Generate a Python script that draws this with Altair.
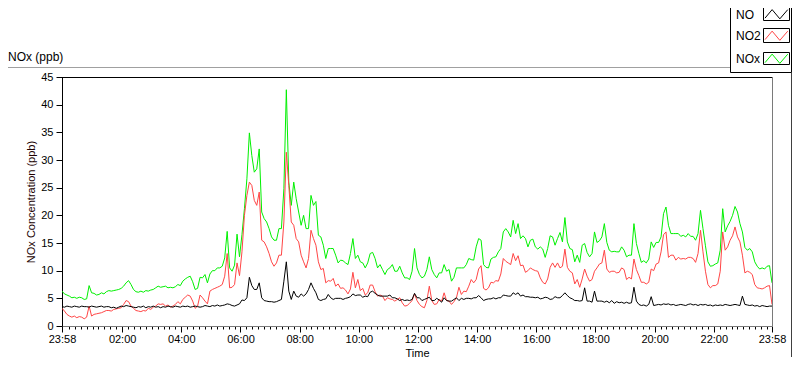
import altair as alt
import pandas as pd

# ---------------- data (5-minute samples from 23:58 to 23:58) -------------
series_names = ["NO", "NO2", "NOx"]

no_values = [
    3.5, 3.4, 3.6, 3.5, 3.4, 3.6, 3.5, 3.4, 3.6, 3.5, 3.5, 3.4, 3.6, 3.5, 3.4, 3.5, 3.6, 3.4, 3.5, 3.5,
    3.3, 3.4, 3.2, 3.4, 3.6, 3.5, 3.7, 3.6, 3.5, 3.4, 3.3, 3.5, 3.4, 3.6, 3.3, 3.5, 3.4, 3.6, 3.4, 3.5,
    3.3, 3.5, 3.4, 3.6, 3.5, 3.4, 3.6, 3.5, 3.4, 3.6, 3.5, 3.6, 3.4, 3.5, 3.6, 3.5, 3.4, 3.5, 3.7, 3.6,
    3.5, 3.7, 3.6, 3.8, 3.6, 3.7, 3.8, 4.0, 3.9, 3.7, 3.6, 3.8, 4.0,
    4.7, 4.6, 5.1, 8.8, 7.3, 6.6, 6.6, 7.8, 5.1, 4.6, 4.5, 4.4, 4.4, 4.3, 4.4, 4.6, 4.8, 8.1, 11.6, 6.3,
    4.8, 6.3, 5.4, 5.2, 5.8, 5.4, 5.8, 6.6, 7.8, 6.8, 6.0, 4.8, 4.6, 4.8, 4.9, 5.7, 5.1, 4.8, 5.0, 5.0,
    5.0, 4.8, 5.0, 5.1, 5.3, 5.8, 5.5, 5.6, 5.6, 5.2, 5.4, 5.3, 6.1, 6.3, 5.9, 5.6, 5.4, 5.4, 5.4, 5.4,
    5.6, 5.1, 5.1, 4.9, 4.6, 4.8, 4.6, 4.7, 4.6, 4.8, 5.9, 5.1, 5.1,
    4.6, 4.8, 5.0, 5.2, 4.6, 4.6, 5.0, 4.7, 4.3, 5.1, 4.6, 4.5, 4.5, 4.8, 5.1, 4.6, 5.0, 4.8, 5.0, 5.0,
    4.9, 5.1, 5.1, 5.5, 5.1, 4.6, 4.8, 4.9, 4.9, 5.1, 4.9, 5.1, 5.1, 5.6, 5.5, 5.4, 5.4, 6.0, 5.7, 6.0,
    5.4, 5.6, 5.3, 5.3, 5.2, 5.2, 5.1, 5.2, 4.9, 5.0, 5.2, 5.1, 4.8, 4.9, 5.3, 5.1, 5.1, 5.5, 6.0, 5.5,
    5.1, 4.9, 4.6, 4.6, 4.5, 4.6, 6.9, 4.5, 4.5, 4.3, 6.3, 4.5, 4.5,
    4.5, 4.3, 4.5, 4.2, 4.6, 4.1, 4.4, 4.2, 4.3, 4.1, 4.3, 4.1, 4.2, 7.0, 4.5, 3.9, 3.7, 3.8, 3.6, 3.9,
    5.3, 3.7, 3.8, 3.9, 3.8, 4.0, 3.9, 4.0, 3.8, 3.9, 3.7, 3.8, 3.9, 3.8, 3.7, 3.9, 4.0, 3.8, 3.9, 3.7,
    3.9, 3.8, 3.9, 3.7, 3.8, 3.6, 3.8, 3.7, 3.8, 3.7, 3.9, 3.8, 3.7, 3.8, 3.9, 3.8, 3.7, 5.4, 3.9, 3.8,
    3.7, 3.8, 3.6, 3.7, 3.5, 3.7, 3.6, 3.5, 3.6, 3.6,
]

no2_values = [
    3.2, 2.7, 2.1, 1.8, 1.6, 1.8, 1.5, 1.7, 1.6, 1.3, 1.6, 3.6, 1.8, 2.1, 2.2, 2.3, 2.4, 2.6, 2.8, 2.8,
    2.7, 3.0, 3.1, 3.2, 3.3, 3.9, 4.6, 4.4, 3.6, 3.2, 2.8, 2.7, 2.6, 2.8, 2.7, 3.2, 3.0, 3.4, 3.6, 4.0,
    3.9, 4.0, 3.6, 3.8, 3.4, 3.6, 3.9, 4.4, 4.0, 4.8, 5.2, 5.6, 5.4, 4.5, 3.2, 3.6, 5.6, 5.1, 4.5, 4.0,
    6.3, 6.6, 6.8, 7.0, 7.2, 7.5, 9.0, 13.1, 6.9, 7.0, 7.5, 11.4, 9.1,
    13.4, 20.0, 23.6, 26.0, 25.4, 22.7, 21.8, 24.2, 15.5, 15.2, 14.3, 13.1, 11.6, 10.8, 11.4, 12.8, 12.8, 18.8, 31.4, 25.4,
    18.8, 18.2, 15.8, 15.2, 12.8, 11.6, 10.5, 12.2, 17.3, 15.8, 14.6, 11.6, 10.2, 10.4, 7.8, 8.2, 8.1, 8.6, 7.2, 7.6,
    6.8, 6.9, 6.5, 5.8, 6.7, 9.7, 6.9, 8.4, 6.4, 6.8, 5.6, 6.0, 7.4, 7.4, 6.2, 5.4, 5.6, 5.4, 4.6, 5.1,
    4.9, 4.8, 4.5, 4.8, 5.1, 4.2, 3.6, 3.7, 4.1, 4.6, 5.8, 4.6, 3.9,
    3.5, 3.3, 4.6, 7.2, 4.6, 3.9, 4.0, 4.8, 4.5, 6.0, 4.6, 4.5, 3.9, 4.4, 5.1, 7.0, 5.7, 6.3, 6.2, 7.2,
    8.4, 7.8, 8.4, 10.3, 10.9, 6.8, 6.5, 6.9, 7.9, 7.8, 8.2, 8.1, 9.4, 12.2, 11.7, 11.4, 11.1, 13.1, 11.8, 12.7,
    10.9, 11.0, 9.7, 10.0, 10.5, 10.2, 10.0, 9.9, 8.7, 7.9, 7.6, 8.5, 10.6, 11.4, 10.6, 11.4, 10.5, 10.8, 13.9, 10.6,
    9.9, 9.6, 7.6, 8.4, 7.0, 8.5, 10.3, 9.0, 8.1, 8.4, 9.9, 10.5, 11.2,
    11.4, 13.7, 10.3, 9.7, 9.9, 9.9, 9.6, 9.7, 10.5, 10.2, 8.4, 8.8, 8.5, 12.1, 10.2, 9.1, 7.9, 7.9, 7.6, 7.9,
    10.3, 10.0, 11.2, 11.4, 13.4, 16.5, 17.0, 12.4, 12.8, 12.8, 11.9, 12.4, 12.1, 12.2, 12.1, 12.4, 12.4, 12.2, 11.5, 13.1,
    17.3, 13.4, 9.9, 7.5, 6.9, 7.3, 7.3, 7.6, 9.9, 17.0, 13.7, 14.3, 15.5, 16.3, 17.9, 16.1, 15.2, 12.8, 9.6, 9.9,
    9.7, 9.3, 7.5, 6.9, 6.8, 6.7, 6.9, 7.2, 7.3, 3.9,
]

nox_values = [
    6.3, 5.8, 5.6, 5.4, 5.1, 5.2, 5.0, 5.2, 5.1, 4.8, 4.9, 7.3, 6.0, 5.9, 5.6, 5.7, 6.0, 5.8, 6.2, 6.4,
    6.3, 6.4, 6.5, 6.6, 6.8, 7.2, 7.8, 8.2, 7.5, 6.6, 6.2, 6.1, 6.3, 6.1, 6.4, 6.3, 6.5, 6.6, 6.9, 7.2,
    7.0, 7.1, 7.2, 6.9, 7.0, 6.9, 7.1, 7.5, 7.3, 8.1, 8.5, 8.8, 9.0, 8.0, 6.6, 6.8, 8.8, 8.7, 9.3, 7.8,
    9.4, 10.0, 10.0, 10.5, 10.5, 10.8, 12.3, 17.1, 10.5, 9.9, 11.0, 16.6, 12.5,
    16.5, 21.2, 26.6, 34.9, 30.8, 27.8, 28.4, 32.0, 20.6, 19.4, 18.8, 17.6, 16.1, 15.5, 15.5, 17.6, 17.6, 24.8, 42.7, 26.0,
    21.8, 26.0, 23.0, 20.6, 18.2, 20.0, 17.6, 17.6, 23.6, 21.8, 22.5, 16.4, 16.1, 14.6, 12.2, 14.0, 14.0, 14.0, 12.8, 11.4,
    11.9, 11.8, 11.4, 11.1, 13.1, 15.8, 12.2, 12.8, 11.6, 11.4, 10.5, 11.4, 13.1, 13.3, 12.2, 10.5, 11.1, 10.2, 9.3, 10.2,
    10.5, 11.1, 9.9, 9.9, 10.8, 9.6, 8.7, 8.7, 8.4, 9.9, 14.0, 10.5, 9.3,
    8.7, 9.0, 10.2, 12.5, 10.2, 9.3, 8.7, 9.6, 9.6, 11.1, 9.9, 10.2, 8.1, 8.8, 10.5, 10.5, 10.5, 10.5, 11.1, 12.2,
    12.0, 11.9, 14.3, 15.8, 15.5, 11.1, 10.6, 10.5, 12.1, 12.4, 12.5, 13.4, 14.0, 17.0, 17.6, 17.0, 16.1, 19.1, 16.7, 18.5,
    15.8, 16.3, 15.8, 14.3, 15.5, 15.7, 14.3, 13.9, 14.3, 13.9, 12.4, 14.0, 16.3, 16.1, 14.6, 15.8, 16.9, 15.2, 19.6, 15.2,
    14.0, 13.8, 11.6, 12.8, 11.5, 14.6, 14.9, 13.3, 12.5, 13.1, 17.0, 15.1, 15.4,
    16.1, 18.5, 15.1, 13.7, 13.4, 13.5, 13.4, 13.4, 14.3, 13.7, 12.5, 12.8, 12.8, 18.5, 14.9, 13.1, 11.5, 11.8, 11.4, 12.1,
    15.2, 14.2, 15.1, 15.1, 16.1, 20.3, 21.5, 18.2, 16.7, 16.7, 16.7, 16.7, 16.2, 16.4, 16.1, 16.7, 16.2, 16.2, 15.5, 16.7,
    20.9, 17.6, 14.5, 11.6, 10.8, 10.9, 11.2, 11.4, 13.7, 21.2, 17.0, 18.1, 18.9, 20.0, 21.6, 20.6, 18.5, 17.0, 14.2, 13.7,
    14.0, 13.4, 11.6, 10.8, 10.3, 10.5, 10.3, 10.8, 10.9, 7.8,
]

start_time = "2020-01-01 23:58"
sample_minutes = 5
y_ticks = [0, 5, 10, 15, 20, 25, 30, 35, 40, 45]
major_labels = ["23:58", "02:00", "04:00", "06:00", "08:00", "10:00", "12:00",
                "14:00", "16:00", "18:00", "20:00", "22:00", "23:58"]
minor_step_minutes = 12

# ---------------- styles ----------------
FONT = "Liberation Sans"
series_colors = ["#000000", "#ff4545", "#00f000"]
W, H = 710, 249
PAD = {"left": 54, "top": 69, "right": 20, "bottom": 31}

t0 = pd.Timestamp(start_time, tz="UTC")
t_end = t0 + pd.Timedelta(days=1)
to_ms = lambda ts: int(ts.value // 10**6)


def series_df(vals):
    return pd.DataFrame({
        "t": [to_ms(t0 + pd.Timedelta(minutes=sample_minutes * i)) for i in range(len(vals))],
        "v": vals,
    })


midnight = pd.Timestamp("2020-01-02 00:00", tz="UTC")
tick_ms = [to_ms(t0)] + [to_ms(midnight + pd.Timedelta(minutes=c))
                         for c in range(minor_step_minutes, 1440, minor_step_minutes)] + [to_ms(t_end)]

lab_list = ",".join("'%s'" % s for s in major_labels)
major_test = "indexof([%s], utcFormat(datum.value, '%%H:%%M')) >= 0" % lab_list

x_scale = alt.Scale(type="utc", domain=[to_ms(t0), to_ms(t_end)], nice=False)
y_scale = alt.Scale(domain=[0, 45], nice=False, zero=True)

x_axis = alt.Axis(
    values=tick_ms,
    labelExpr="%s ? utcFormat(datum.value, '%%H:%%M') : ''" % major_test,
    tickSize={"condition": {"test": major_test, "value": 6}, "value": 3},
    tickColor="black", domainColor="#7a7a7a", grid=False,
    labelFont=FONT, labelFontSize=11, labelColor="black", labelPadding=1,
    labelOverlap=False, labelFlush=False, labelBound=False,
    title="Time", titleFont=FONT, titleFontSize=11, titleFontWeight="normal", titleColor="black",
    titleX=W / 2, titleY=30, titleAlign="center", titleBaseline="alphabetic",
)
y_axis = alt.Axis(
    values=y_ticks, grid=False, tickSize=6, tickColor="black", domainColor="black",
    labelFont=FONT, labelFontSize=11, labelColor="black", labelPadding=3,
    title="NOx Concentration (ppb)", titleFont=FONT, titleFontSize=11,
    titleFontWeight="normal", titleColor="#200000", titleAngle=-90,
    titleX=-31, titleY=H / 2, titleAlign="center", titleBaseline="middle",
)

one = pd.DataFrame({"k": [0]})


def line_layer(vals, color):
    return alt.Chart(series_df(vals)).mark_line(
        color=color, strokeWidth=1, interpolate="linear", clip=True
    ).encode(
        x=alt.X("t:T", scale=x_scale, axis=x_axis),
        y=alt.Y("v:Q", scale=y_scale, axis=y_axis),
    )


def hrule(y, x1, x2, color):
    return alt.Chart(one).mark_rule(color=color, strokeWidth=1).encode(
        x=alt.value(x1), x2=alt.value(x2), y=alt.value(y))


def vrule(x, y1, y2, color):
    return alt.Chart(one).mark_rule(color=color, strokeWidth=1).encode(
        y=alt.value(y1), y2=alt.value(y2), x=alt.value(x))


# positions relative to the plot origin
LEG_L, LEG_R, LEG_B = 668.5, 729.5, -4.5
layers = []
# outer panel frame (grey top, dark right)
layers.append(hrule(-9.5, -54, LEG_L, "#a0a0a0"))
layers.append(vrule(LEG_R, LEG_B, H + 40, "#404040"))
# plot-area frame (top black, right grey)
layers.append(hrule(0.5, 0, W, "black"))
layers.append(vrule(W + 0.5, 0, H + 0.5, "#7a7a7a"))

# chart caption
layers.append(alt.Chart(one).mark_text(
    text="NOx (ppb)", font=FONT, fontSize=12, align="left", baseline="alphabetic", color="black"
).encode(x=alt.value(-54), y=alt.value(-16.5)))

# legend box
layers.append(alt.Chart(one).mark_rect(fill="white", stroke="black", strokeWidth=1).encode(
    x=alt.value(LEG_L), x2=alt.value(LEG_R), y=alt.value(-90), y2=alt.value(LEG_B)))

legend_text_y = [-58.5, -37.5, -14.5]
legend_box_y = [(-69.5, -56.5), (-48.5, -34.5), (-24.5, -12.5)]
zigzag = "M-1,0.36 L-0.38,-0.38 L0.29,0.42 L0.98,-0.38"
for name, color, ty, (by1, by2) in zip(series_names, series_colors, legend_text_y, legend_box_y):
    layers.append(alt.Chart(pd.DataFrame({"s": [name]})).mark_text(
        font=FONT, fontSize=12, align="left", baseline="alphabetic", color="black"
    ).encode(text="s:N", x=alt.value(674), y=alt.value(ty)))
    layers.append(alt.Chart(one).mark_rect(fill="white", stroke="black", strokeWidth=1).encode(
        x=alt.value(701.5), x2=alt.value(727.5), y=alt.value(by1), y2=alt.value(by2)))
    layers.append(alt.Chart(one).mark_point(
        shape=zigzag, size=529, filled=False, stroke=color, strokeWidth=1, opacity=1
    ).encode(x=alt.value(714.5), y=alt.value((by1 + by2) / 2)))

# data lines: NOx below, NO2, NO on top
layers.append(line_layer(nox_values, series_colors[2]))
layers.append(line_layer(no2_values, series_colors[1]))
layers.append(line_layer(no_values, series_colors[0]))

chart = alt.layer(*layers).properties(
    width=W, height=H,
    autosize=alt.AutoSizeParams(type="none"),
    padding=PAD,
    background="white",
).configure_view(stroke=None)

chart.save("out.html", embed_options={"renderer": "svg", "actions": False})
